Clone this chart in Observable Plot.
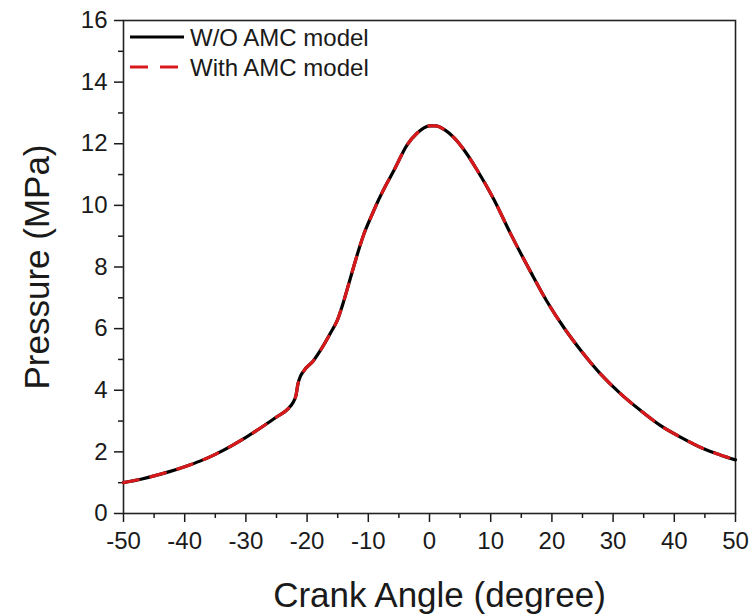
<!DOCTYPE html>
<html>
<head>
<meta charset="utf-8">
<script src="https://cdn.jsdelivr.net/npm/d3@7"></script>
<script src="https://cdn.jsdelivr.net/npm/@observablehq/plot@0.6"></script>
<style>
  html, body { margin: 0; padding: 0; background: #fff; }
  #wrap { position: relative; width: 751px; height: 616px; font-family: "Liberation Sans", Arial, sans-serif; }
  #legend { position: absolute; left: 128px; top: 24px; }
</style>
</head>
<body>
<div id="wrap"></div>
<script>
// Crank angle (degree)
const crankAngle = [-50, -47, -45, -42.5, -40, -37.5, -35, -32.5, -30, -27.5, -25, -23, -22.3, -21.8, -21.5, -21.2, -20.5, -19, -17.8, -16.2, -15, -14, -13.2, -12.4, -11.5, -10.7, -9.5, -8.5, -7, -5.8, -3.7, -2, 0, 1, 2.5, 4, 6, 7.8, 10.5, 13.2, 16.5, 19.2, 22, 24.7, 27.9, 31.2, 34.5, 37.7, 41, 44.8, 47.5, 50];
// Pressure (MPa), without AMC model
const pressureWO = [1.0, 1.12, 1.22, 1.36, 1.52, 1.7, 1.92, 2.18, 2.47, 2.79, 3.13, 3.42, 3.6, 3.85, 4.2, 4.4, 4.64, 4.95, 5.3, 5.85, 6.3, 6.9, 7.45, 8.0, 8.6, 9.08, 9.65, 10.1, 10.7, 11.14, 11.95, 12.35, 12.58, 12.58, 12.45, 12.2, 11.7, 11.14, 10.2, 9.1, 7.85, 6.88, 6.02, 5.3, 4.54, 3.89, 3.34, 2.86, 2.48, 2.1, 1.9, 1.74];
// Pressure (MPa), with AMC model (coincides with the curve above)
const pressureAMC = [1.0, 1.12, 1.22, 1.36, 1.52, 1.7, 1.92, 2.18, 2.47, 2.79, 3.13, 3.42, 3.6, 3.85, 4.2, 4.4, 4.64, 4.95, 5.3, 5.85, 6.3, 6.9, 7.45, 8.0, 8.6, 9.08, 9.65, 10.1, 10.7, 11.14, 11.95, 12.35, 12.58, 12.58, 12.45, 12.2, 11.7, 11.14, 10.2, 9.1, 7.85, 6.88, 6.02, 5.3, 4.54, 3.89, 3.34, 2.86, 2.48, 2.1, 1.9, 1.74];

const seriesNames = ["W/O AMC model", "With AMC model"];
const xMajor = d3.range(-50, 51, 10);
const xMinor = d3.range(-45, 50, 10);
const yMajor = d3.range(0, 17, 2);
const yMinor = d3.range(1, 16, 2);

const woData = crankAngle.map((x, i) => ({x, y: pressureWO[i]}));
const amcData = crankAngle.map((x, i) => ({x, y: pressureAMC[i]}));

const font = "'Liberation Sans', Arial, sans-serif";
const ink = "#1a1a1a";

const chart = Plot.plot({
  width: 751,
  height: 616,
  marginLeft: 123,
  marginRight: 16,
  marginTop: 20,
  marginBottom: 103,
  style: {fontFamily: font, fontSize: "24px", color: ink, background: "#fff"},
  x: {domain: [-50, 50]},
  y: {domain: [0, 16]},
  marks: [
    Plot.axisX({ticks: xMinor, tickSize: 5, text: null, label: null, strokeWidth: 1.5}),
    Plot.axisX({ticks: xMajor, tickSize: 9, tickPadding: 9, tickFormat: d => String(d), label: null, fontSize: 24, strokeWidth: 1.5}),
    Plot.axisY({ticks: yMinor, tickSize: 5, text: null, label: null, strokeWidth: 1.5}),
    Plot.axisY({ticks: yMajor, tickSize: 9, tickPadding: 7, tickFormat: d => String(d), label: null, fontSize: 24, strokeWidth: 1.5}),
    Plot.frame({stroke: "#222", strokeWidth: 1.6}),
    Plot.line(woData, {x: "x", y: "y", stroke: "#000", strokeWidth: 3.2, curve: "monotone-x"}),
    Plot.line(amcData, {x: "x", y: "y", stroke: "#d7191c", strokeWidth: 3.2, strokeDasharray: "15,13", curve: "monotone-x"}),
    Plot.text(["Pressure (MPa)"], {frameAnchor: "left", dx: -86, rotate: -90, fontSize: 35, fill: ink, textAnchor: "middle", lineAnchor: "middle"}),
    Plot.text(["Crank Angle (degree)"], {frameAnchor: "bottom", dx: 10, dy: 82, fontSize: 35, fill: ink, textAnchor: "middle", lineAnchor: "middle"})
  ]
});

const wrap = document.getElementById("wrap");
wrap.appendChild(chart);

// Legend overlay
const legendColors = ["#000", "#d7191c"];
const legendDash = [null, "18,12"];
const ns = "http://www.w3.org/2000/svg";
const lg = document.createElementNS(ns, "svg");
lg.setAttribute("id", "legend");
lg.setAttribute("width", 260);
lg.setAttribute("height", 62);
seriesNames.forEach((name, i) => {
  const cy = 13 + i * 30;
  const ln = document.createElementNS(ns, "line");
  ln.setAttribute("x1", 2); ln.setAttribute("x2", 56);
  ln.setAttribute("y1", cy); ln.setAttribute("y2", cy);
  ln.setAttribute("stroke", legendColors[i]);
  ln.setAttribute("stroke-width", 3.2);
  if (legendDash[i]) ln.setAttribute("stroke-dasharray", legendDash[i]);
  lg.appendChild(ln);
  const t = document.createElementNS(ns, "text");
  t.setAttribute("x", 62); t.setAttribute("y", cy);
  t.setAttribute("dy", "0.36em");
  t.setAttribute("font-size", 24);
  t.setAttribute("font-family", font);
  t.setAttribute("fill", ink);
  t.textContent = name;
  lg.appendChild(t);
});
wrap.appendChild(lg);
</script>
</body>
</html>
